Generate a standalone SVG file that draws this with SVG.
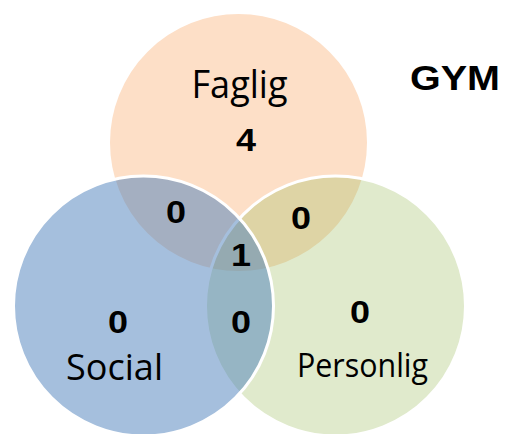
<svg xmlns="http://www.w3.org/2000/svg" width="507" height="434" viewBox="0 0 507 434">
<style>
.c{stroke:#ffffff;stroke-width:3}
.lbl{font-family:"Open Sans","Noto Sans",sans-serif;fill:#000;text-anchor:middle}
.num{font-family:"Liberation Sans",Arial,sans-serif;font-weight:bold;font-size:32px;fill:#000;text-anchor:middle}
</style>
<rect width="507" height="434" fill="#ffffff"/>
<g id="faglig">
<circle class="c" cx="238.5" cy="142.5" r="130" fill="#F79646" fill-opacity="0.3"/>
</g>
<g id="personlig">
<circle class="c" cx="335.5" cy="306" r="130" fill="#9BBB59" fill-opacity="0.31"/>
</g>
<g id="social">
<circle class="c" cx="143.5" cy="306" r="130" fill="#4F81BD" fill-opacity="0.51"/>
</g>
<g id="connectors"></g>
<g id="labels">
<text class="lbl" x="239.5" y="98" font-size="38" textLength="96" lengthAdjust="spacingAndGlyphs">Faglig</text>
<text class="num" x="246" y="151" textLength="20" lengthAdjust="spacingAndGlyphs">4</text>
<text class="num" x="176" y="223" textLength="20" lengthAdjust="spacingAndGlyphs">0</text>
<text class="num" x="241" y="266" textLength="20" lengthAdjust="spacingAndGlyphs">1</text>
<text class="num" x="241" y="333" textLength="20" lengthAdjust="spacingAndGlyphs">0</text>
<text class="num" x="118" y="333" textLength="20" lengthAdjust="spacingAndGlyphs">0</text>
<text class="lbl" x="114.5" y="380" font-size="37" textLength="97" lengthAdjust="spacingAndGlyphs">Social</text>
<text class="num" x="301" y="229" textLength="20" lengthAdjust="spacingAndGlyphs">0</text>
<text class="num" x="360" y="323" textLength="20" lengthAdjust="spacingAndGlyphs">0</text>
<text class="lbl" x="362.5" y="377" font-size="33" textLength="131" lengthAdjust="spacingAndGlyphs">Personlig</text>
<text x="455" y="90" font-family="Liberation Sans,Arial,sans-serif" font-weight="bold" font-size="35" text-anchor="middle" textLength="90" lengthAdjust="spacingAndGlyphs">GYM</text>
</g>
</svg>
